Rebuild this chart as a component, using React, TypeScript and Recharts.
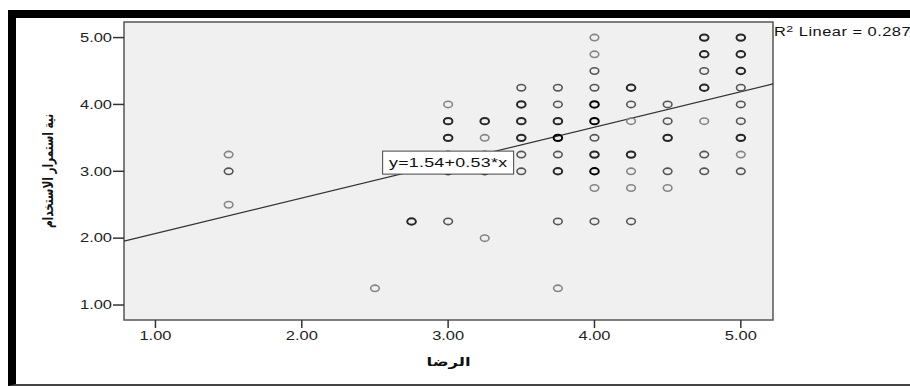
import React from "react";
import {
  ReferenceArea,
  ReferenceDot,
  ReferenceLine,
  Scatter,
  ScatterChart,
  XAxis,
  YAxis,
} from "recharts";

// Satisfaction levels (x) and, per level, the observed intention values (y)
// with how many cases sit on the same spot (darker ring = more overlap).
const satisfaction = [1.5, 2.5, 2.75, 3.0, 3.25, 3.5, 3.75, 4.0, 4.25, 4.5, 4.75, 5.0];
const intentionByLevel = [
  [3.25, 3.0, 2.5],
  [1.25],
  [2.25],
  [4.0, 3.75, 3.5, 3.25, 3.0, 2.25],
  [3.75, 3.5, 3.25, 3.0, 2.0],
  [4.25, 4.0, 3.75, 3.5, 3.25, 3.0],
  [4.25, 4.0, 3.75, 3.5, 3.25, 3.0, 2.25, 1.25],
  [5.0, 4.75, 4.5, 4.25, 4.0, 3.75, 3.5, 3.25, 3.0, 2.75, 2.25],
  [4.25, 4.0, 3.75, 3.25, 3.0, 2.75, 2.25],
  [4.0, 3.75, 3.5, 3.0, 2.75],
  [5.0, 4.75, 4.5, 4.25, 3.75, 3.25, 3.0],
  [5.0, 4.75, 4.5, 4.25, 4.0, 3.75, 3.5, 3.25, 3.0],
];
const overlapByLevel = [
  [1, 2, 1],
  [1],
  [3],
  [1, 3, 3, 2, 3, 2],
  [3, 1, 2, 3, 1],
  [2, 3, 3, 3, 2, 2],
  [2, 2, 3, 4, 2, 3, 2, 1],
  [1, 1, 2, 2, 4, 4, 2, 3, 4, 1, 2],
  [3, 2, 1, 3, 1, 1, 2],
  [2, 2, 3, 2, 1],
  [3, 3, 2, 3, 1, 2, 2],
  [3, 3, 3, 2, 2, 2, 3, 1, 2],
];

const axisTicks = [1, 2, 3, 4, 5];
const intercept = 1.54;
const slope = 0.53;
const rSquared = 0.287;

const X_DOMAIN: [number, number] = [0.785, 5.22];
const Y_DOMAIN: [number, number] = [0.776, 5.233];

const NUM_FONT = "'Liberation Sans', Arial, sans-serif";
const AR_FONT = "'DejaVu Sans', sans-serif";
const STRETCH = 1.37; // the source picture is stretched sideways

const points = satisfaction.flatMap((x, i) =>
  intentionByLevel[i].map((y, j) => ({ x, y, n: overlapByLevel[i][j] }))
);

const RING = ["#858585", "#555", "#262626", "#000"];

function Ring(props: any) {
  const { cx, cy, payload } = props;
  const n = Math.min(payload.n, 4);
  return (
    <ellipse
      cx={cx}
      cy={cy}
      rx={4.3}
      ry={3.2}
      fill="none"
      stroke={RING[n - 1]}
      strokeWidth={n >= 3 ? 2 : 1.6}
    />
  );
}

function XTick({ x, y, payload }: any) {
  return (
    <text
      transform={`translate(${x},${y}) scale(${STRETCH},1)`}
      textAnchor="middle"
      dy="0.72em"
      fontSize={12}
      fontFamily={NUM_FONT}
      fill="#222"
    >
      {Number(payload.value).toFixed(2)}
    </text>
  );
}

function YTick({ x, y, payload }: any) {
  return (
    <text
      transform={`translate(${x},${y}) scale(${STRETCH},1)`}
      textAnchor="end"
      dy="0.36em"
      fontSize={12}
      fontFamily={NUM_FONT}
      fill="#222"
    >
      {Number(payload.value).toFixed(2)}
    </text>
  );
}

function FitBox({ cx, cy }: any) {
  return (
    <g>
      <rect x={cx - 65.5} y={cy - 11.5} width={131} height={23} fill="#fff" stroke="#444" strokeWidth={1} />
      <text
        transform={`translate(${cx},${cy}) scale(${STRETCH},1)`}
        textAnchor="middle"
        dy="0.36em"
        fontSize={13}
        letterSpacing={0.2}
        fontFamily={NUM_FONT}
        fill="#111"
      >
        {`y=${intercept.toFixed(2)}+${slope.toFixed(2)}*x`}
      </text>
    </g>
  );
}

export default function App() {
  return (
    <div style={{ position: "absolute", left: 0, top: 0, width: 910, height: 386, overflow: "hidden", background: "#fff" }}>
      <div
        style={{
          position: "absolute",
          left: 8,
          top: 10,
          width: 902,
          height: 376,
          boxSizing: "border-box",
          borderTop: "8px solid #000",
          borderLeft: "8px solid #000",
          borderBottom: "2px solid #444",
        }}
      />
      <div style={{ position: "absolute", left: 0, top: 0 }}>
        <ScatterChart width={910} height={386} margin={{ top: 22, right: 137, bottom: 36, left: 0 }}>
          <ReferenceArea
            x1={X_DOMAIN[0]}
            x2={X_DOMAIN[1]}
            y1={Y_DOMAIN[0]}
            y2={Y_DOMAIN[1]}
            fill="#f0f0f0"
            fillOpacity={1}
            stroke="#555"
            strokeWidth={1.5}
            ifOverflow="visible"
          />
          <XAxis
            type="number"
            dataKey="x"
            domain={X_DOMAIN}
            ticks={axisTicks}
            allowDataOverflow
            height={30}
            axisLine={false}
            tickSize={8}
            tickMargin={3}
            tickLine={{ stroke: "#333", strokeWidth: 1.5 }}
            tick={<XTick />}
            label={(p: any) => {
              const vb = p.viewBox;
              const cx = vb.x + vb.width / 2;
              const cy = vb.y + 42;
              return (
                <text
                  transform={`translate(${cx},${cy}) scale(${STRETCH},1)`}
                  textAnchor="middle"
                  dominantBaseline="central"
                  fontSize={12}
                  fontWeight="bold"
                  fontFamily={AR_FONT}
                  fill="#111"
                >
                  الرضا
                </text>
              );
            }}
          />
          <YAxis
            type="number"
            dataKey="y"
            domain={Y_DOMAIN}
            ticks={axisTicks}
            allowDataOverflow
            width={124}
            axisLine={false}
            tickSize={11}
            tickMargin={1}
            tickLine={{ stroke: "#333", strokeWidth: 1.5 }}
            tick={<YTick />}
            label={(p: any) => {
              const vb = p.viewBox;
              const cx = 48;
              const cy = vb.y + vb.height / 2;
              return (
                <text
                  transform={`translate(${cx},${cy}) rotate(-90) scale(1,${STRETCH})`}
                  textAnchor="middle"
                  dominantBaseline="central"
                  fontSize={10.5}
                  fontWeight="bold"
                  fontFamily={AR_FONT}
                  fill="#111"
                >
                  نية استمرار الاستخدام
                </text>
              );
            }}
          />
          <ReferenceLine
            segment={[
              { x: X_DOMAIN[0], y: intercept + slope * X_DOMAIN[0] },
              { x: X_DOMAIN[1], y: intercept + slope * X_DOMAIN[1] },
            ]}
            stroke="#333"
            strokeWidth={1.2}
            ifOverflow="visible"
          />
          <Scatter data={points} shape={<Ring />} isAnimationActive={false} />
          <ReferenceDot x={3.0} y={3.13} r={0} shape={<FitBox />} ifOverflow="visible" />
        </ScatterChart>
      </div>
      <div
        style={{
          position: "absolute",
          left: 774,
          top: 25,
          fontFamily: NUM_FONT,
          fontSize: 12,
          letterSpacing: 0.35,
          color: "#111",
          whiteSpace: "nowrap",
          lineHeight: "14px",
          transform: `scale(${STRETCH},1)`,
          transformOrigin: "left top",
        }}
      >
        R<sup style={{ fontSize: 9, lineHeight: 0, verticalAlign: "4px" }}>2</sup> Linear = {rSquared.toFixed(3)}
      </div>
    </div>
  );
}
